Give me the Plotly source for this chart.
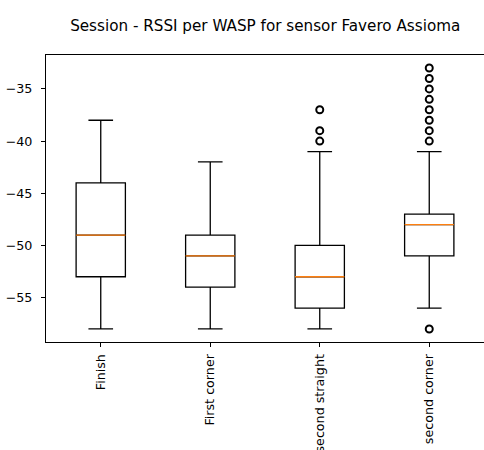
import plotly.graph_objects as go

categories = ["Finish", "First corner", "second straight", "second corner"]
positions = [1, 2, 3, 4]
q1 = [-53, -54, -56, -51]
median = [-49, -51, -53, -48]
q3 = [-44, -49, -50, -47]
lower_whisker = [-58, -58, -58, -56]
upper_whisker = [-38, -42, -41, -41]
outliers = {
    "second straight": [-37, -39, -40],
    "second corner": [-33, -34, -35, -36, -37, -38, -39, -40, -58],
}

BOX_W = 0.45
FONT = "DejaVu Sans, sans-serif"

fig = go.Figure()
fig.add_trace(go.Box(
    x=positions, q1=q1, median=median, q3=q3,
    lowerfence=lower_whisker, upperfence=upper_whisker,
    width=BOX_W, whiskerwidth=0.5, boxpoints=False,
    fillcolor="rgba(0,0,0,0)", line=dict(color="black", width=1.3),
    showlegend=False,
))

# median lines (orange)
mx, my = [], []
for p, m in zip(positions, median):
    mx += [p - BOX_W / 2, p + BOX_W / 2, None]
    my += [m, m, None]
fig.add_trace(go.Scatter(x=mx, y=my, mode="lines",
                         line=dict(color="#ff7f0e", width=1.3),
                         showlegend=False, hoverinfo="skip"))

# outliers
ox, oy = [], []
for p, c in zip(positions, categories):
    for v in outliers.get(c, []):
        ox.append(p)
        oy.append(v)
fig.add_trace(go.Scatter(x=ox, y=oy, mode="markers",
                         marker=dict(symbol="circle-open", size=7,
                                     color="black", line=dict(width=2)),
                         showlegend=False))

fig.update_layout(
    width=484, height=450,
    margin=dict(l=46, r=0, t=55, b=108, autoexpand=False),
    paper_bgcolor="white", plot_bgcolor="white",
    font=dict(family=FONT, size=12.7, color="black"),
    title=dict(text="Session - RSSI per WASP for sensor Favero Assioma",
               x=0.548, xanchor="center",
               y=1 - 26 / 450, yanchor="middle",
               font=dict(family=FONT, size=15.2, color="black")),
)
fig.update_xaxes(
    range=[0.5, 4.5], tickmode="array", tickvals=positions, ticktext=categories,
    tickangle=-90, ticks="outside", ticklen=4, tickcolor="black",
    ticklabelstandoff=2,
    showline=True, linecolor="black", linewidth=1, mirror=True,
    showgrid=False, zeroline=False, automargin=False,
)
fig.update_yaxes(
    range=[-59.25, -31.75], tickmode="array",
    tickvals=[-35, -40, -45, -50, -55],
    ticktext=["\u221235", "\u221240", "\u221245", "\u221250", "\u221255"],
    ticks="outside", ticklen=4, tickcolor="black",
    ticklabelstandoff=6,
    showline=True, linecolor="black", linewidth=1, mirror=True,
    showgrid=False, zeroline=False, automargin=False,
)

fig.write_html("out.html", config={"displayModeBar": False},
               post_script="document.body.style.margin='0';")
